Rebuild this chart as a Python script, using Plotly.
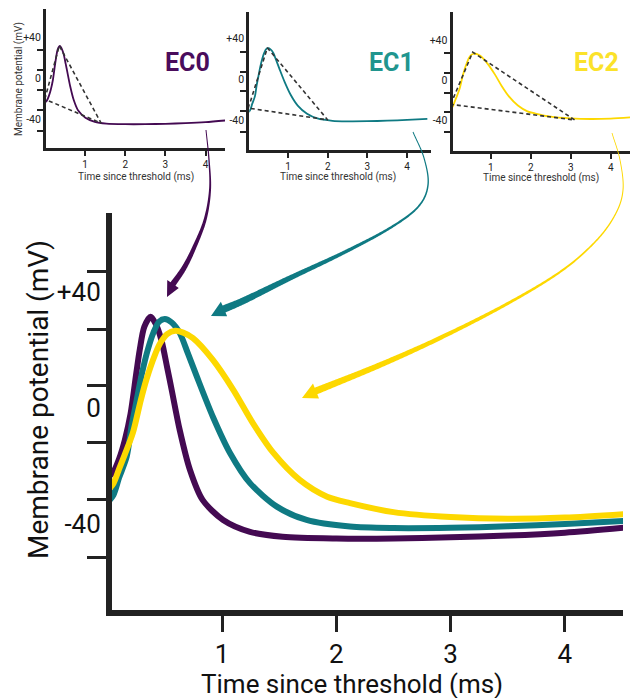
import numpy as np
import plotly.graph_objects as go

W, H = 637, 698

# ---------------- data ----------------
TIME_EC0 = [0, 0.05, 0.10, 0.15, 0.20, 0.25, 0.28, 0.32, 0.376, 0.42, 0.47, 0.52, 0.56, 0.63, 0.72,
            0.83, 1.01, 1.245, 1.53, 2.0, 2.5, 3.0, 3.5, 4.0, 4.51]
VM_EC0 = [-24, -22, -17.5, -11, -2, 12, 20, 28, 31.5, 29, 23.4, 14, 6.2, -7.6, -21.4,
          -31.7, -38.6, -42.7, -44.4, -45, -45, -44.6, -44, -43, -41.3]

TIME_EC1 = [0, 0.05, 0.10, 0.166, 0.21, 0.254, 0.30, 0.35, 0.40, 0.45, 0.50, 0.56, 0.63, 0.70, 0.78,
            0.92, 1.07, 1.245, 1.48, 1.74, 2.12, 2.5, 3.0, 3.5, 4.0, 4.51]
VM_EC1 = [-32.5, -30, -24, -16.8, -6, 2.8, 12, 20, 26, 29.8, 30.7, 29.5, 25.9, 19, 10.8,
          -3, -15.5, -25.9, -34, -38.6, -40.9, -41.4, -41.3, -40.8, -40, -39]

TIME_EC2 = [0, 0.05, 0.10, 0.15, 0.22, 0.29, 0.34, 0.41, 0.46, 0.52, 0.59, 0.66, 0.746, 0.92, 1.1,
            1.27, 1.45, 1.68, 1.92, 2.12, 2.5, 3.0, 3.5, 4.0, 4.51]
VM_EC2 = [-28.5, -26, -21, -16, -8.6, 2.8, 10, 18, 22.4, 25.5, 26.6, 26, 24.1, 16.6, 6.2,
          -5.2, -15.5, -24.8, -30.6, -32.8, -35.9, -37.6, -38.2, -37.8, -36.6]

# dashed triangles in the small panels: start, peak, end
TRI_EC0_T = [0, 0.36, 1.40]
TRI_EC0_V = [-20.5, 31.8, -43.9]
TRI_EC1_T = [0, 0.48, 2.0]
TRI_EC1_V = [-28.4, 31, -40]
TRI_EC2_T = [0, 0.55, 3.1]
TRI_EC2_V = [-23.7, 28, -39.2]

X_TICKS = [1, 2, 3, 4]
Y_LABEL_VALS = [-40, 0, 40]
Y_LABEL_TEXT = ["-40", "0", "+40"]
Y_TICK_MARKS = [47, 27.2, 7.6, -12, -31.5, -51.5]
INSET_Y_TICK_MARKS = [27.2, 7.6, -12, -31.5, -51.5]

NAMES = ["EC0", "EC1", "EC2"]
LINE_COLORS = ["#440a52", "#0f7a83", "#fdd800"]
LABEL_COLORS = ["#4a0c5c", "#21958e", "#fbe22a"]

FONT = "Roboto"
AX = "#222222"

# ---------------- helpers for layout geometry ----------------
def xr(lo, hi, x0, s):
    return [(lo - x0) / s, (hi - x0) / s]

def yr(top, bot, y0, s):
    return [(y0 - bot) / s, (y0 - top) / s]

def px_dom_x(lo, hi):
    return [lo / W, hi / W]

def px_dom_y(top, bot):
    return [1 - bot / H, 1 - top / H]

fig = go.Figure()

series = [(TIME_EC0, VM_EC0), (TIME_EC1, VM_EC1), (TIME_EC2, VM_EC2)]
tris = [(TRI_EC0_T, TRI_EC0_V), (TRI_EC1_T, TRI_EC1_V), (TRI_EC2_T, TRI_EC2_V)]

# insets
for i, ((t, v), (tt, tv)) in enumerate(zip(series, tris)):
    k = i + 2
    fig.add_trace(go.Scatter(x=t, y=v, mode="lines", xaxis=f"x{k}", yaxis=f"y{k}",
                             line=dict(color=LINE_COLORS[i], width=1.8, shape="spline", smoothing=0.8),
                             showlegend=False, hoverinfo="skip"))
    fig.add_trace(go.Scatter(x=tt + [tt[0]], y=tv + [tv[0]], mode="lines", xaxis=f"x{k}", yaxis=f"y{k}",
                             line=dict(color="#333333", width=1.6, dash="4px,3px"),
                             showlegend=False, hoverinfo="skip"))

# main chart
for i, (t, v) in enumerate(series):
    fig.add_trace(go.Scatter(x=t, y=v, mode="lines", xaxis="x", yaxis="y",
                             line=dict(color=LINE_COLORS[i], width=6, shape="spline", smoothing=0.8),
                             showlegend=False, hoverinfo="skip"))

layout = dict(width=W, height=H, autosize=False, margin=dict(l=0, r=0, t=0, b=0),
              paper_bgcolor="white", plot_bgcolor="white", showlegend=False)

# main axes
layout["xaxis"] = dict(domain=px_dom_x(112, 623), range=xr(112, 623, 107.7, 114.3), anchor="y",
                       showline=True, linewidth=6, linecolor=AX, ticks="outside", ticklen=16,
                       tickwidth=3, tickcolor=AX, tickmode="array", tickvals=X_TICKS,
                       tickfont=dict(family=FONT, size=26, color="#111"), showgrid=False,
                       zeroline=False, fixedrange=True)
layout["yaxis"] = dict(domain=px_dom_y(213, 610), range=yr(213, 610, 408, 2.9), anchor="x",
                       showline=True, linewidth=6, linecolor=AX, ticks="", tickmode="array",
                       tickvals=Y_LABEL_VALS, ticktext=Y_LABEL_TEXT,
                       tickfont=dict(family=FONT, size=26, color="#111"),
                       minor=dict(ticks="outside", tickmode="array", tickvals=Y_TICK_MARKS,
                                  ticklen=19, tickwidth=2.5, tickcolor=AX, showgrid=False),
                       showgrid=False, zeroline=False, fixedrange=True)

insets = [
    dict(l=46, r=225, t=9.3, b=148, x0=44.8, sx=40.2, y0=78.2, sy=1.022),
    dict(l=249.2, r=431, t=11.7, b=150.2, x0=248.3, sx=39.7, y0=79.3, sy=1.015),
    dict(l=452.5, r=630, t=11.7, b=151.2, x0=450.7, sx=40.0, y0=80.4, sy=1.01),
]
for i, g in enumerate(insets):
    k = i + 2
    layout[f"xaxis{k}"] = dict(domain=px_dom_x(g["l"], g["r"]), range=xr(g["l"], g["r"], g["x0"], g["sx"]),
                               anchor=f"y{k}", showline=True, linewidth=3, linecolor=AX,
                               ticks="outside", ticklen=5, tickwidth=1.5, tickcolor=AX,
                               tickmode="array", tickvals=X_TICKS,
                               tickfont=dict(family=FONT, size=10, color="#222"),
                               showgrid=False, zeroline=False, fixedrange=True)
    layout[f"yaxis{k}"] = dict(domain=px_dom_y(g["t"], g["b"]), range=yr(g["t"], g["b"], g["y0"], g["sy"]),
                               anchor=f"x{k}", showline=True, linewidth=3, linecolor=AX,
                               ticks="", tickmode="array", tickvals=Y_LABEL_VALS, ticktext=Y_LABEL_TEXT,
                               tickfont=dict(family=FONT, size=10.5, color="#222"),
                               minor=dict(ticks="outside", tickmode="array", tickvals=INSET_Y_TICK_MARKS,
                                          ticklen=6, tickwidth=1.5, tickcolor=AX, showgrid=False),
                               showgrid=False, zeroline=False, fixedrange=True)

# ---------------- text annotations ----------------
def ann(text, x, y, size, color="#111", angle=0, bold=False):
    return dict(text=text, x=x / W, y=1 - y / H, xref="paper", yref="paper", showarrow=False,
                xanchor="center", yanchor="middle", textangle=angle,
                font=dict(family=FONT, size=size, color=color, weight="bold" if bold else "normal"))

annotations = [
    ann("Time since threshold (ms)", 352, 684, 26),
    ann("Membrane potential (mV)", 38, 400, 28, angle=-90),
    ann("Membrane potential (mV)", 19, 79, 10, color="#333", angle=-90),
    ann("Time since threshold (ms)", 136, 176.5, 10, color="#333"),
    ann("Time since threshold (ms)", 338, 177, 10, color="#333"),
    ann("Time since threshold (ms)", 541, 178, 10, color="#333"),
]
for name, col, (x, y) in zip(NAMES, LABEL_COLORS, [(187.5, 62.5), (391, 62), (596.5, 62)]):
    annotations.append(ann(name, x, y, 25, color=col, bold=True))
layout["annotations"] = annotations

# ---------------- curved tapered arrows ----------------
def catmull(points, per=40):
    pts = np.array(points, float)
    P = np.vstack([2 * pts[0] - pts[1], pts, 2 * pts[-1] - pts[-2]])
    out = []
    for i in range(1, len(P) - 2):
        p0, p1, p2, p3 = P[i - 1], P[i], P[i + 1], P[i + 2]
        for s in np.linspace(0, 1, per, endpoint=False):
            out.append(0.5 * ((2 * p1) + (-p0 + p2) * s + (2 * p0 - 5 * p1 + 4 * p2 - p3) * s ** 2
                              + (-p0 + 3 * p1 - 3 * p2 + p3) * s ** 3))
    out.append(pts[-1])
    return np.array(out)

def arrow_path(points, tip, w0, w1, hw):
    c = catmull(points)
    d = np.gradient(c, axis=0)
    d /= np.linalg.norm(d, axis=1, keepdims=True)
    n = np.stack([-d[:, 1], d[:, 0]], axis=1)
    seg = np.r_[0, np.cumsum(np.linalg.norm(np.diff(c, axis=0), axis=1))]
    u = seg / seg[-1]
    w = w0 + (w1 - w0) * u ** 1.6
    left = c + n * (w[:, None] / 2)
    right = c - n * (w[:, None] / 2)
    end = c[-1]
    tip = np.array(tip, float)
    wl = end + n[-1] * hw
    wr = end - n[-1] * hw
    poly = list(left) + [wl, tip, wr] + list(right[::-1])
    def P(p):
        return f"{p[0] / W:.5f},{1 - p[1] / H:.5f}"
    return "M " + " L ".join(P(p) for p in poly) + " Z"

ARROWS = [
    ([(206, 130), (209, 160), (210, 190), (205, 220), (194, 248), (184, 268), (173, 284)], (167, 297), 1.0, 6.0, 7.0),
    ([(413, 132), (424, 158), (428, 185), (418, 207), (390, 228), (345, 252), (290, 278), (245, 300), (224, 309)],
     (211, 316), 1.0, 7.5, 8.0),
    ([(612, 133), (620, 160), (623, 190), (615, 215), (595, 242), (560, 272), (505, 305), (440, 338), (380, 365),
      (316, 391)], (302, 398), 0.8, 7.0, 8.0),
]
shapes = []
for (pts, tip, w0, w1, hw), col in zip(ARROWS, LINE_COLORS):
    shapes.append(dict(type="path", xref="paper", yref="paper", path=arrow_path(pts, tip, w0, w1, hw),
                       fillcolor=col, line=dict(width=0), layer="above"))
layout["shapes"] = shapes

fig.update_layout(**layout)
fig.write_html("out.html")
